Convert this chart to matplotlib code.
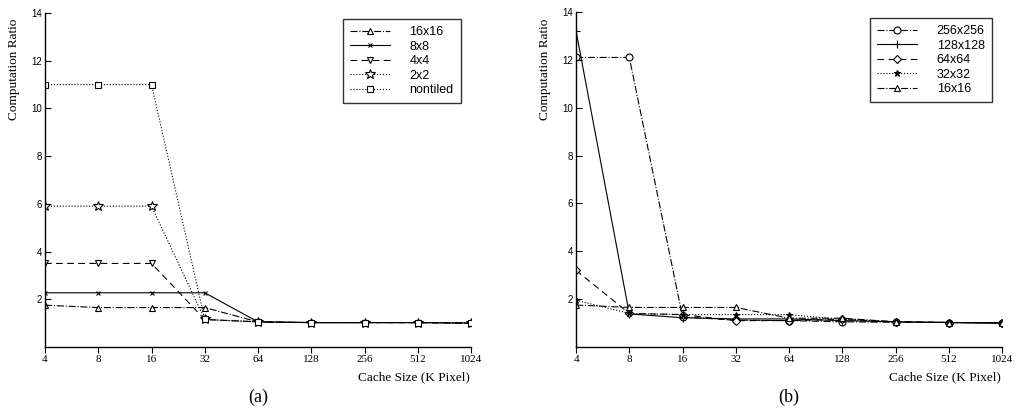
import numpy as np
import matplotlib
matplotlib.use("Agg")
import matplotlib.pyplot as plt

cache_sizes = ["4", "8", "16", "32", "64", "128", "256", "512", "1024"]

# panel (a)
a_16x16 = [1.75, 1.65, 1.65, 1.65, 1.05, 1.02, 1.02, 1.02, 1.0]
a_8x8 = [2.27, 2.27, 2.27, 2.27, 1.05, 1.02, 1.02, 1.02, 1.0]
a_4x4 = [3.5, 3.5, 3.5, 1.15, 1.05, 1.02, 1.02, 1.02, 1.0]
a_2x2 = [5.9, 5.9, 5.9, 1.15, 1.05, 1.02, 1.02, 1.02, 1.0]
a_nontiled = [11.0, 11.0, 11.0, 1.15, 1.05, 1.02, 1.02, 1.02, 1.0]

# panel (b)
b_256 = [12.1, 12.1, 1.25, 1.12, 1.1, 1.05, 1.03, 1.02, 1.0]
b_128 = [13.2, 1.38, 1.22, 1.17, 1.17, 1.1, 1.05, 1.02, 1.0]
b_64 = [3.2, 1.4, 1.35, 1.1, 1.1, 1.15, 1.05, 1.02, 1.0]
b_32 = [1.95, 1.4, 1.35, 1.35, 1.35, 1.15, 1.05, 1.02, 1.0]
b_16 = [1.75, 1.65, 1.65, 1.65, 1.2, 1.2, 1.05, 1.02, 1.0]

SERIF = "Liberation Serif"
SANS = "Liberation Sans"

def style_axes(ax, letter):
    x = np.arange(len(cache_sizes))
    ax.set_xlim(0, len(cache_sizes) - 1)
    ax.set_ylim(0, 14)
    ax.set_xticks(x)
    ax.set_xticklabels(cache_sizes, fontfamily=SERIF, fontsize=8)
    ax.set_yticks([2, 4, 6, 8, 10, 12, 14])
    ax.set_yticklabels(["2", "4", "6", "8", "10", "12", "14"], fontfamily=SANS, fontsize=7)
    ax.tick_params(axis="x", direction="out", length=4, width=0.8, pad=2)
    ax.tick_params(axis="y", direction="in", length=4, width=0.8, pad=2)
    for s in ["top", "right"]:
        ax.spines[s].set_visible(False)
    for s in ["left", "bottom"]:
        ax.spines[s].set_linewidth(1.0)
    ax.set_ylabel("Computation Ratio", fontfamily=SERIF, fontsize=9.5)
    ax.yaxis.set_label_coords(-0.058, 0.83)
    ax.set_xlabel("Cache Size (K Pixel)", fontfamily=SERIF, fontsize=9.5)
    ax.xaxis.set_label_coords(0.865, -0.072)
    ax.text(0.5, -0.15, letter, transform=ax.transAxes, ha="center", va="center",
            fontfamily=SERIF, fontsize=13)
    leg = ax.legend(loc="upper right", bbox_to_anchor=(0.99, 1.0), frameon=True,
                    fancybox=False, edgecolor="black", handlelength=3.2,
                    handletextpad=1.6, labelspacing=0.2, borderpad=0.55,
                    prop={"family": SANS, "size": 9})
    leg.get_frame().set_linewidth(1.0)

fig = plt.figure(figsize=(10.16, 4.13), dpi=100)
ax1 = fig.add_axes([0.0443, 0.16, 0.4193, 0.8085])
ax2 = fig.add_axes([0.567, 0.16, 0.4193, 0.8110])

x = np.arange(len(cache_sizes))
kw = dict(color="black", lw=0.8, markersize=5, markerfacecolor="white", markeredgecolor="black", markeredgewidth=0.8)

ax1.plot(x, a_16x16, linestyle="-.", marker="^", label="16x16", **kw)
ax1.plot(x, a_8x8, linestyle="-", marker="x", label="8x8", **{**kw, "markersize": 3.5})
ax1.plot(x, a_4x4, linestyle=(0, (6, 4)), marker="v", label="4x4", **kw)
ax1.plot(x, a_2x2, linestyle=":", marker="*", label="2x2", **{**kw, "markersize": 7})
ax1.plot(x, a_nontiled, linestyle=":", marker="s", label="nontiled", **{**kw, "markersize": 4.5})
style_axes(ax1, "(a)")

ax2.plot(x, b_256, linestyle="-.", marker="o", label="256x256", **kw)
ax2.plot(x, b_128, linestyle="-", marker="+", label="128x128", **{**kw, "markersize": 6})
ax2.plot(x, b_64, linestyle=(0, (6, 4)), marker="D", label="64x64", **{**kw, "markersize": 4})
ax2.plot(x, b_32, linestyle=":", marker="*", label="32x32", **{**kw, "markersize": 5, "markerfacecolor": "black"})
ax2.plot(x, b_16, linestyle="-.", marker="^", label="16x16", **kw)
style_axes(ax2, "(b)")

fig.savefig("out.png", dpi=100)
